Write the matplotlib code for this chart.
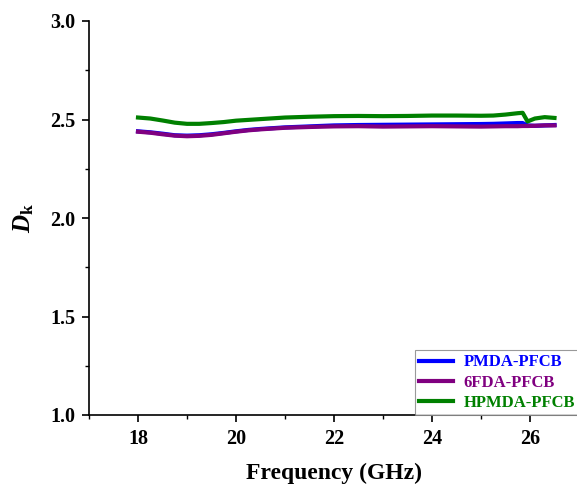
import numpy as np
import matplotlib.pyplot as plt
from matplotlib.ticker import MultipleLocator

plt.rcParams['font.family'] = 'Liberation Serif'
plt.rcParams['font.weight'] = 'bold'
plt.rcParams['mathtext.fontset'] = 'custom'
plt.rcParams['mathtext.it'] = 'Liberation Serif:italic:bold'
plt.rcParams['mathtext.rm'] = 'Liberation Serif:bold'

# frequency (GHz)
freq = [18.0, 18.25, 18.5, 18.75, 19.0, 19.25, 19.5, 19.75, 20.0, 20.25, 20.5,
        20.75, 21.0, 21.5, 22.0, 22.5, 23.0, 23.5, 24.0, 24.5, 25.0, 25.25,
        25.5, 25.75, 25.85, 25.95, 26.1, 26.3, 26.5]

pmda = [2.440, 2.435, 2.428, 2.420, 2.418, 2.420, 2.425, 2.432, 2.440, 2.447, 2.452,
        2.456, 2.460, 2.465, 2.470, 2.472, 2.473, 2.474, 2.475, 2.476, 2.477, 2.478,
        2.480, 2.482, 2.482, 2.470, 2.468, 2.470, 2.472]

fda6 = [2.438, 2.433, 2.425, 2.418, 2.415, 2.417, 2.422, 2.430, 2.438, 2.445, 2.450,
        2.454, 2.458, 2.462, 2.465, 2.466, 2.464, 2.465, 2.466, 2.465, 2.464, 2.465,
        2.466, 2.466, 2.467, 2.467, 2.468, 2.470, 2.470]

hpmda = [2.510, 2.505, 2.495, 2.484, 2.478, 2.478, 2.482, 2.487, 2.494, 2.498, 2.502,
         2.506, 2.510, 2.514, 2.517, 2.518, 2.517, 2.518, 2.520, 2.520, 2.519, 2.520,
         2.525, 2.532, 2.534, 2.490, 2.505, 2.512, 2.508]

fig = plt.figure(figsize=(5.77, 4.88), dpi=100)
ax = fig.add_axes([89/577, 73/488, 490/577, 394/488])

ax.plot(freq, pmda, color='#0000ff', linewidth=3, label='PMDA-PFCB')
ax.plot(freq, fda6, color='#800080', linewidth=3, label='6FDA-PFCB')
ax.plot(freq, hpmda, color='#008000', linewidth=3, label='HPMDA-PFCB')

ax.set_xlim(17, 27)
ax.set_ylim(1.0, 3.0)
ax.xaxis.set_major_locator(MultipleLocator(2))
ax.xaxis.set_minor_locator(MultipleLocator(1))
ax.yaxis.set_major_locator(MultipleLocator(0.5))
ax.yaxis.set_minor_locator(MultipleLocator(0.25))
ax.tick_params(which='major', length=5, width=1.2, labelsize=14.5, pad=5)
ax.tick_params(which='minor', length=3, width=1.0)
ax.spines['top'].set_visible(False)
ax.spines['right'].set_visible(False)
ax.spines['left'].set_linewidth(1.2)
ax.spines['bottom'].set_linewidth(1.2)

ax.set_xlabel('Frequency (GHz)', fontsize=17, fontweight='bold', labelpad=10)
ax.set_ylabel(r'$D_\mathrm{k}$', fontsize=18, labelpad=10)

leg = ax.legend(loc='lower right', frameon=True, fancybox=False,
                edgecolor='gray', borderaxespad=0, handlelength=2.0,
                borderpad=0.25, labelspacing=0.25, handletextpad=0.65,
                prop={'weight': 'bold', 'size': 12})
leg.get_frame().set_linewidth(0.8)
for txt, line in zip(leg.get_texts(), leg.get_lines()):
    txt.set_color(line.get_color())
    line.set_linewidth(3)

fig.savefig('out.png', dpi=100)
